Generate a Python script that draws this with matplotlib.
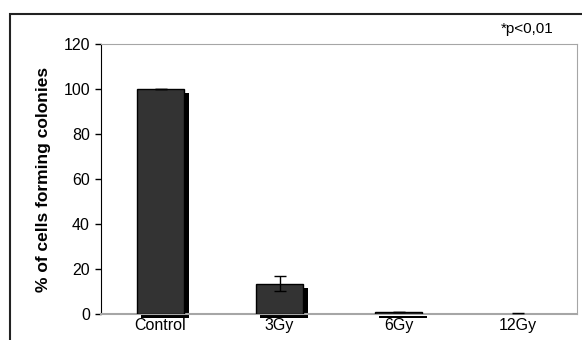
import matplotlib
matplotlib.use('Agg')
from matplotlib import pyplot as plt
from matplotlib import transforms
from matplotlib.patches import Rectangle
import numpy as np

plt.rcParams['font.family'] = ['Liberation Sans', 'DejaVu Sans']

# Data
groups = ['Control', '3Gy', '6Gy', '12Gy']
values = [100, 13.5, 0.7, 0]
errors = [0, 3.2, 0, 0.3]

fig = plt.figure(figsize=(5.82, 3.40), dpi=100)
ax = fig.add_axes([101/582, 26/340, 476/582, 270/340])

x = np.arange(len(groups))
width = 0.40

# drop shadow behind each bar
shadow = transforms.offset_copy(ax.transData, fig=fig, x=4.5, y=-4, units='dots')
for xi, v in zip(x, values):
    if v > 0:
        ax.bar(xi, v, width, color='black', linewidth=0,
               transform=shadow, clip_on=False, zorder=2)
        ax.bar(xi, v, width, color='#333333', edgecolor='black',
               linewidth=1, zorder=3)

ax.errorbar(x, values, yerr=errors, fmt='none', ecolor='black',
            elinewidth=1, capsize=4.5, capthick=1, zorder=4)

ax.set_xlim(-0.5, len(groups) - 0.5)
ax.set_ylim(0, 120)
ax.set_yticks(range(0, 121, 20))
ax.set_xticks(x)
ax.set_xticklabels(groups, fontsize=11.5)
ax.tick_params(axis='x', length=0, pad=3)
ax.tick_params(axis='y', length=4, width=1, direction='out', labelsize=11.5, pad=4)
ax.set_ylabel('% of cells forming colonies', fontsize=12.5, fontweight='bold', labelpad=9)

ax.spines['left'].set_color('black')
ax.spines['bottom'].set_color('#a6a6a6')
ax.spines['bottom'].set_linewidth(1.5)
ax.spines['top'].set_color('#a6a6a6')
ax.spines['right'].set_color('#a6a6a6')

fig.text(527/582, 1 - 29/340, '*p<0,01', fontsize=11, ha='center', va='center')

# outer frame around the graphic (cut off on the right and bottom)
frame = Rectangle((10/582, -0.2), 1.1, 1 - 14/340 + 0.2,
                  transform=fig.transFigure, fill=False,
                  edgecolor='#222222', linewidth=1.5, clip_on=False)
fig.add_artist(frame)

fig.savefig('out.png', dpi=100)
